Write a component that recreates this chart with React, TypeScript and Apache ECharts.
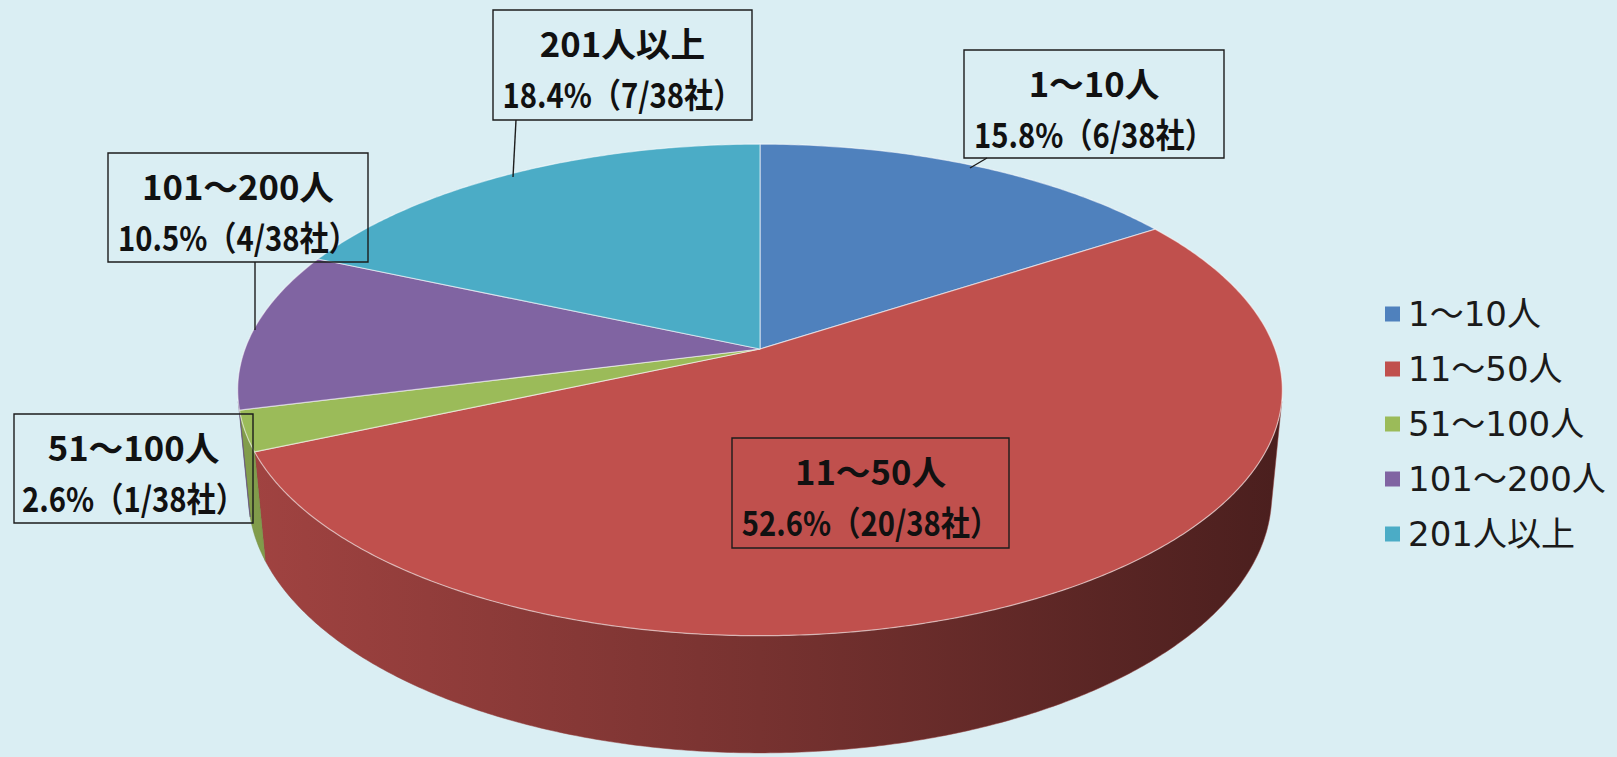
import React, { useEffect, useRef } from 'react';
import * as echarts from 'echarts';

// ---- data ----
const categories = ['1～10人', '11～50人', '51～100人', '101～200人', '201人以上'];
const companyCounts = [6, 20, 1, 4, 7];
const totalCompanies = 38;
const companyUnit = '社';

// ---- styling / layout (not data) ----
const sliceColors = ['#4F81BD', '#C0504D', '#9BBB59', '#8064A2', '#4BACC6'];
const labelBoxes = [
  [964, 50, 260, 108],
  [732, 438, 277, 110],
  [14, 414, 239, 109],
  [108, 153, 260, 109],
  [493, 10, 259, 110],
];
const leaderLines: (number[][] | null)[] = [
  [[987, 158], [970, 168]],
  null,
  null,
  [[255, 262], [255, 330]],
  [[516, 120], [513, 177]],
];

// perspective projection of the 3D disc
const CX = 760;
const CY = 349;
const SIN_A = 0.464;
const COS_A = Math.sqrt(1 - SIN_A * SIN_A);
const DIST = 5.32;
const K = 2740;
const THICK = 0.232;

function proj(thetaDeg: number, Y: number, r = 1): number[] {
  const t = (thetaDeg * Math.PI) / 180;
  const X = r * Math.sin(t);
  const Z = -r * Math.cos(t);
  const depth = DIST - Y * SIN_A - Z * COS_A;
  const ycam = Y * COS_A - Z * SIN_A;
  return [CX + (K * X) / depth, CY - (K * ycam) / depth];
}

function shade(hex: string, f: number): string {
  const n = parseInt(hex.slice(1), 16);
  const r = Math.round(((n >> 16) & 255) * f);
  const g = Math.round(((n >> 8) & 255) * f);
  const b = Math.round((n & 255) * f);
  return `rgb(${r},${g},${b})`;
}

const cumulative: number[][] = (() => {
  let acc = 0;
  return companyCounts.map((v) => {
    const s = acc;
    acc += v;
    return [v, s / totalCompanies, acc / totalCompanies];
  });
})();

export default function App() {
  const ref = useRef<HTMLDivElement>(null);
  useEffect(() => {
    if (!ref.current) return;
    const chart = echarts.init(ref.current, null, { renderer: 'svg' });
    const zc = 1 / (DIST * COS_A);
    const visStart = (Math.acos(-zc) * 180) / Math.PI;
    const visEnd = 360 - visStart;
    const leftX = proj(270, 0)[0];
    const rightX = proj(90, 0)[0];

    const renderItem = (params: any, api: any) => {
      const i = params.dataIndex;
      const count = api.value(0);
      const a0 = api.value(1) * 360;
      const a1 = api.value(2) * 360;
      const color = sliceColors[i];
      const children: any[] = [];

      // side wall
      const ws = Math.max(a0, visStart);
      const we = Math.min(a1, visEnd);
      if (we > ws) {
        const top: number[][] = [];
        const bot: number[][] = [];
        const steps = Math.max(2, Math.ceil((we - ws) / 0.5));
        for (let s = 0; s <= steps; s++) {
          const t = ws + ((we - ws) * s) / steps;
          top.push(proj(t, 0));
          bot.push(proj(t, -THICK));
        }
        children.push({
          type: 'polygon',
          z2: 1,
          shape: { points: top.concat(bot.reverse()) },
          style: {
            fill: {
              type: 'linear',
              x: leftX,
              y: 0,
              x2: rightX,
              y2: 0,
              global: true,
              colorStops: [
                { offset: 0, color: shade(color, 0.84) },
                { offset: 0.5, color: shade(color, 0.62) },
                { offset: 1, color: shade(color, 0.39) },
              ],
            },
            stroke: shade(color, 0.75),
            lineWidth: 0.5,
          },
        });
      }

      // top face
      const pts: number[][] = [[CX, CY]];
      const steps = Math.max(2, Math.ceil((a1 - a0) / 0.5));
      for (let s = 0; s <= steps; s++) {
        pts.push(proj(a0 + ((a1 - a0) * s) / steps, 0));
      }
      children.push({
        type: 'polygon',
        z2: 2,
        shape: { points: pts },
        style: { fill: color, stroke: 'rgba(255,255,255,0.55)', lineWidth: 1.2 },
      });

      // label box
      const [bx, by, bw, bh] = labelBoxes[i];
      children.push({
        type: 'rect',
        z2: 5,
        shape: { x: bx, y: by, width: bw, height: bh },
        style: { fill: 'none', stroke: '#1c1c1c', lineWidth: 1.4 },
      });
      const pct = ((count / totalCompanies) * 100).toFixed(1);
      const lines = [categories[i], `${pct}%（${count}/${totalCompanies}${companyUnit}）`];
      lines.forEach((txt, li) => {
        children.push({
          type: 'text',
          z2: 6,
          x: bx + bw / 2,
          y: by + (li === 0 ? 32 : 83),
          scaleX: li === 0 ? 1.02 : 0.86,
          style: {
            text: txt,
            fill: '#111',
            fontSize: 34,
            fontWeight: 'bold',
            fontFamily: '"Noto Sans CJK JP", sans-serif',
            align: 'center',
            verticalAlign: 'middle',
          },
        });
      });
      const ll = leaderLines[i];
      if (ll) {
        children.push({
          type: 'line',
          z2: 5,
          shape: { x1: ll[0][0], y1: ll[0][1], x2: ll[1][0], y2: ll[1][1] },
          style: { stroke: '#1c1c1c', lineWidth: 1.4 },
        });
      }
      return { type: 'group', children };
    };

    chart.setOption({
      animation: false,
      backgroundColor: '#DAEEF3',
      legend: {
        orient: 'vertical',
        left: 1380,
        top: 292,
        icon: 'rect',
        itemWidth: 15,
        itemHeight: 15,
        itemGap: 21,
        data: categories,
        textStyle: {
          fontSize: 34,
          lineHeight: 34,
          color: '#1a1a1a',
          fontFamily: '"DejaVu Sans", "Noto Sans CJK JP", sans-serif',
          padding: [0, 0, 0, 3],
        },
      },
      series: [
        {
          type: 'custom',
          coordinateSystem: 'none',
          silent: true,
          renderItem,
          data: cumulative,
        },
        {
          type: 'pie',
          silent: true,
          radius: 1,
          center: [-50, -50],
          label: { show: false },
          labelLine: { show: false },
          data: categories.map((name, i) => ({
            name,
            value: companyCounts[i],
            itemStyle: { color: sliceColors[i] },
          })),
        },
      ],
    });
    return () => chart.dispose();
  }, []);
  return (
    <div
      ref={ref}
      style={{ position: 'absolute', left: 0, top: 0, width: 1617, height: 757 }}
    />
  );
}
